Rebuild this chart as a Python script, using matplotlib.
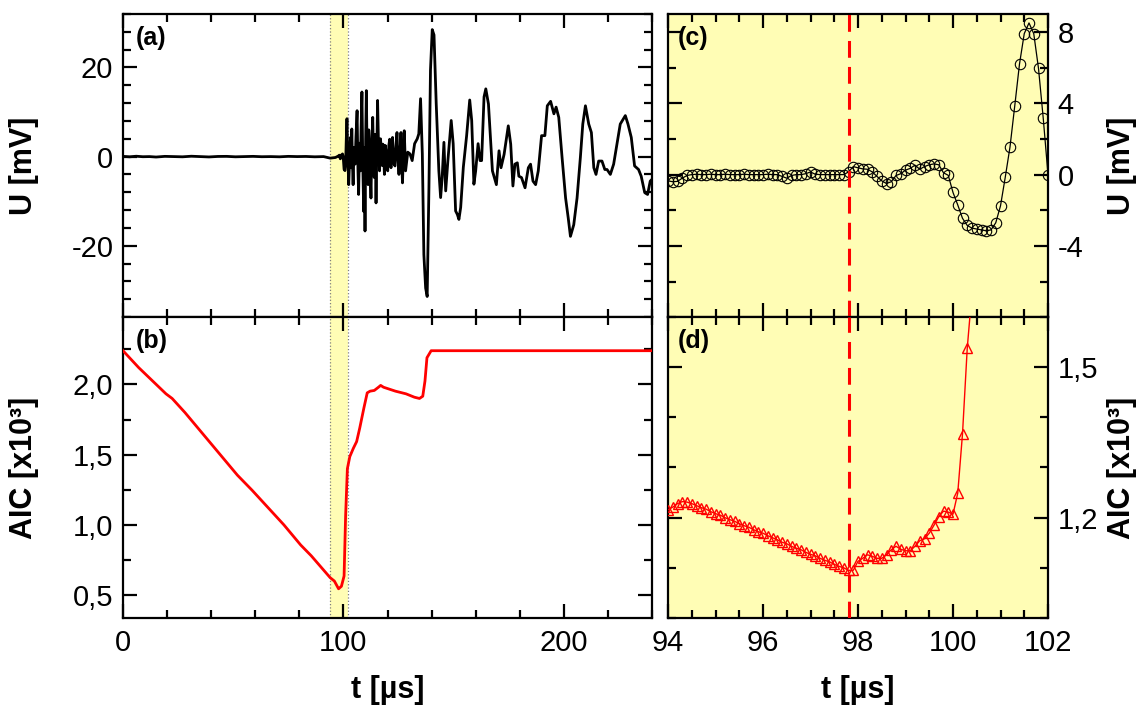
import numpy as np
import matplotlib.pyplot as plt
from matplotlib.ticker import MultipleLocator, FuncFormatter

plt.rcParams['font.family'] = ['Liberation Sans', 'DejaVu Sans']
plt.rcParams['axes.unicode_minus'] = False

t_wave = [0, 3, 6, 9, 12, 15, 19, 23, 27, 31, 35, 39, 43, 47, 51, 55, 59, 63, 67, 71,
          75, 79, 83, 87, 91, 94, 96.4, 97.8, 98.1, 98.6, 99.1, 99.6, 99.9, 100.3, 100.7,
          101.0, 101.3, 101.6, 102.0, 102.4, 102.8, 103.2, 103.5, 103.8, 104.1, 104.4,
          104.8, 105.3, 105.7, 106.2, 106.6, 106.9, 107.3, 107.7, 108.0, 108.4, 108.8,
          109.2, 109.5, 109.8, 110.1, 110.4, 110.8, 111.2, 111.5, 111.8, 112.2, 112.5,
          112.9, 113.3, 113.7, 114.0, 114.4, 114.8, 115.2, 115.5, 115.9, 116.4, 116.8,
          117.3, 117.6, 117.9, 118.3, 118.6, 119.0, 119.3, 119.7, 120.1, 120.6, 121.0,
          121.3, 121.6, 122.0, 122.3, 122.8, 123.4, 123.8, 124.3, 124.8, 125.2, 125.7,
          126.1, 126.5, 126.8, 127.2, 127.6, 128.2, 129.2, 130.2, 131.2, 132.3, 133.5,
          134.2, 135.0, 135.8, 136.5, 137.3, 138.0, 138.8, 139.5, 140.3, 141.1, 142.1,
          143.3, 144.1, 144.8, 145.6, 146.4, 147.4, 148.9, 149.8, 150.9, 151.7, 152.4,
          153.2, 154.4, 155.9, 157.3, 158.2, 159.2, 160.0, 161.1, 162.0, 162.7, 163.8,
          164.6, 165.8, 167.6, 169.4, 170.6, 171.5, 172.9, 174.8, 175.9, 176.9, 177.8,
          178.9, 179.6, 180.8, 182.4, 183.9, 184.9, 186.0, 187.2, 188.4, 189.9, 191.4,
          192.5, 194.0, 195.5, 196.5, 197.7, 199.2, 200.8, 202.0, 203.0, 204.5, 206.0,
          207.5, 208.6, 209.8, 211.3, 212.5, 213.6, 214.6, 215.8, 217.3, 218.6, 219.6,
          221.1, 222.6, 224.1, 225.6, 227.9, 229.1, 230.6, 232.1, 233.9, 235.1, 236.7,
          238.0, 239.2, 240.0]
u_wave = [0.05, -0.05, 0.08, -0.03, 0.0, -0.1, 0.05, 0.0, -0.05, 0.08, 0.0, -0.08, 0.03,
          0.05, -0.05, 0.0, 0.05, -0.03, 0.0, -0.05, 0.05, 0.0, 0.03, -0.05, 0.0, -0.35,
          -0.2, 0.15, 0.32, -0.5, 0.35, 0.6, -0.04, -2.85, -3.15, -1.75, 3.85, 8.5, 0.0,
          -6.3, -1.0, 4.3, -2.5, 6.2, -1.5, -6.3, 2.0, -1.7, 4.5, 10.3, -3.0, -8.5, 3.0,
          -3.2, 6.0, 14.5, -2.0, -12.3, 2.0, -16.7, 4.0, 14.8, -2.0, -6.3, 6.0, 2.8, -4.0,
          -9.3, 3.0, 8.8, -2.0, -4.7, 5.0, -10.4, 2.0, 12.6, 3.0, -3.2, 4.0, 1.3, -2.0,
          2.8, 0.0, -4.0, 2.5, 1.3, -1.5, -3.2, 2.5, 3.9, -1.0, -2.5, 1.5, 4.3, -1.5,
          -2.1, 2.0, 5.4, -1.0, -4.0, 1.0, 5.4, -2.0, -5.9, 0.5, 5.8, -3.2, 1.0, 0.6,
          -0.9, 2.9, 4.0, 5.1, 13.0, 0.6, -22.0, -29.5, -31.4, -6.9, 19.4, 28.5, 27.3,
          11.9, -3.2, -9.2, -4.7, 3.2, -7.7, -0.9, 8.1, 2.9, -12.2, -13.0, -14.1, -11.4,
          -2.4, 4.7, 12.7, 8.1, -6.2, -3.2, 2.9, -0.9, -0.9, 13.4, 15.2, 11.8, -3.2,
          -6.3, 1.3, -2.5, 0.5, 6.9, 2.8, -6.6, -1.7, -1.4, -4.4, -4.7, -7.0, -2.5, -1.7,
          -5.5, -6.3, -3.2, 4.7, 4.7, 11.4, 12.4, 9.6, 11.1, 8.8, -0.2, -9.3, -13.8,
          -17.9, -15.3, -9.3, -0.2, 7.3, 11.4, 7.3, 5.4, -2.5, -4.0, -1.0, -1.0, -2.9,
          -2.9, -4.0, -1.7, 2.8, 7.3, 9.2, 7.3, 4.3, -2.1, -2.9, -4.4, -8.1, -8.5, -5.5,
          -5.1]

# (b) AIC over the whole record (x10^3)
t_aic = [0, 7.1, 19.5, 22.3, 28.1, 51.9, 58.6, 73.0, 80.6, 85.4, 94.0, 95.9, 97.8, 99.1,
         100.3, 101.0, 101.8, 102.9, 104.5, 106.0, 107.4, 109.3, 110.8, 112.1, 114.0,
         115.9, 116.9, 118.2, 123.6, 128.4, 132.2, 134.5, 136.0, 137.0, 137.9, 139.8, 240]
aic = [2.24, 2.12, 1.933, 1.90, 1.80, 1.354, 1.246, 1.0, 0.857, 0.78, 0.624, 0.60, 0.545,
       0.563, 0.636, 1.067, 1.40, 1.486, 1.545, 1.593, 1.689, 1.833, 1.94, 1.952, 1.957,
       1.98, 1.993, 1.98, 1.952, 1.933, 1.909, 1.90, 1.916, 2.024, 2.19, 2.24, 2.24]

# (c),(d) zoom window 94-102 us, one sample every 0.1 us
t_zoom = [94.0, 94.1, 94.2, 94.3, 94.4, 94.5, 94.6, 94.7, 94.8, 94.9,
          95.0, 95.1, 95.2, 95.3, 95.4, 95.5, 95.6, 95.7, 95.8, 95.9,
          96.0, 96.1, 96.2, 96.3, 96.4, 96.5, 96.6, 96.7, 96.8, 96.9,
          97.0, 97.1, 97.2, 97.3, 97.4, 97.5, 97.6, 97.7, 97.8, 97.9,
          98.0, 98.1, 98.2, 98.3, 98.4, 98.5, 98.6, 98.7, 98.8, 98.9,
          99.0, 99.1, 99.2, 99.3, 99.4, 99.5, 99.6, 99.7, 99.8, 99.9,
          100.0, 100.1, 100.2, 100.3, 100.4, 100.5, 100.6, 100.7, 100.8, 100.9,
          101.0, 101.1, 101.2, 101.3, 101.4, 101.5, 101.6, 101.7, 101.8, 101.9, 102.0]
u_zoom = [-0.35, -0.40, -0.38, -0.20, -0.05, 0.00, 0.02, 0.00, 0.00, 0.02,
          0.00, 0.00, 0.02, 0.00, 0.00, 0.00, 0.02, 0.00, 0.00, 0.00,
          0.00, 0.02, 0.00, 0.00, -0.10, -0.20, -0.05, 0.00, 0.00, 0.05,
          0.15, 0.02, 0.00, 0.00, 0.00, 0.00, 0.00, 0.00, 0.15, 0.45,
          0.38, 0.32, 0.30, 0.15, -0.10, -0.35, -0.50, -0.40, -0.05, 0.05,
          0.25, 0.35, 0.53, 0.30, 0.45, 0.55, 0.60, 0.55, 0.10, -0.04,
          -1.00, -1.70, -2.45, -2.85, -3.00, -3.05, -3.10, -3.15, -3.10, -2.70,
          -1.75, -0.15, 1.55, 3.85, 6.20, 7.90, 8.50, 7.90, 5.95, 3.15, 0.00]
aic_zoom = [1.216, 1.221, 1.228, 1.232, 1.231, 1.228, 1.224, 1.220, 1.217, 1.212,
            1.208, 1.205, 1.200, 1.196, 1.193, 1.188, 1.184, 1.181, 1.176, 1.172,
            1.169, 1.164, 1.160, 1.156, 1.151, 1.148, 1.143, 1.139, 1.136, 1.131,
            1.127, 1.124, 1.119, 1.115, 1.112, 1.107, 1.103, 1.100, 1.095,
            1.095, 1.113, 1.119, 1.126, 1.123, 1.119, 1.119, 1.126, 1.136, 1.143, 1.137,
            1.134, 1.134, 1.143, 1.154, 1.158, 1.169, 1.185, 1.202, 1.213, 1.211,
            1.207, 1.249, 1.367, 1.538, 1.650]

t_pick = 97.8          # AIC minimum = onset
win = (94, 102)        # zoom window

yellow = '#FFFDB5'
W, H = 1145, 710

fig = plt.figure(figsize=(W / 100, H / 100), dpi=100)
ax_a = fig.add_axes([123 / W, 1 - 317 / H, 529 / W, 303 / H])
ax_b = fig.add_axes([123 / W, 1 - 618 / H, 529 / W, 301 / H])
ax_c = fig.add_axes([668 / W, 1 - 317 / H, 380 / W, 303 / H])
ax_d = fig.add_axes([668 / W, 1 - 618 / H, 380 / W, 301 / H])

comma = FuncFormatter(lambda v, p: f"{v:.1f}".replace('.', ','))

# left column
for ax in (ax_a, ax_b):
    ax.axvspan(win[0], win[1], color=yellow, zorder=0, lw=0)
    for x in win:
        ax.axvline(x, color='gray', ls=':', lw=0.9, zorder=1)
    ax.set_xlim(0, 240)
    ax.xaxis.set_major_locator(MultipleLocator(100))
    ax.xaxis.set_minor_locator(MultipleLocator(20))

ax_a.plot(t_wave, u_wave, color='black', lw=2.0, zorder=3)
ax_a.set_ylim(-36, 32)
ax_a.yaxis.set_major_locator(MultipleLocator(20))
ax_a.yaxis.set_minor_locator(MultipleLocator(4))
ax_a.set_ylabel('U [mV]', fontsize=22, fontweight='bold')
ax_a.tick_params(labelbottom=False)

ax_b.plot(t_aic, aic, color='red', lw=2.0, zorder=3)
ax_b.set_ylim(0.337, 2.48)
ax_b.yaxis.set_major_locator(MultipleLocator(0.5))
ax_b.yaxis.set_minor_locator(MultipleLocator(0.25))
ax_b.yaxis.set_major_formatter(comma)
ax_b.set_ylabel('AIC [x10³]', fontsize=22, fontweight='bold')
ax_b.set_xlabel('t [µs]', fontsize=22, fontweight='bold')

# right column
for ax in (ax_c, ax_d):
    ax.set_facecolor(yellow)
    ax.set_xlim(*win)
    ax.xaxis.set_major_locator(MultipleLocator(2))
    ax.xaxis.set_minor_locator(MultipleLocator(0.5))
    ax.axvline(t_pick, color='red', lw=2.2, ls=(0, (5.5, 3)), zorder=4)
    ax.yaxis.set_label_position('right')

ax_c.plot(t_zoom, u_zoom, color='black', lw=0.9, marker='o', ms=7.5,
          mfc='none', mec='black', mew=0.8, zorder=3)
ax_c.set_ylim(-7.98, 9.0)
ax_c.yaxis.set_major_locator(MultipleLocator(4))
ax_c.yaxis.set_minor_locator(MultipleLocator(2))
ax_c.set_ylabel('U [mV]', fontsize=22, fontweight='bold')
ax_c.tick_params(labelbottom=False)

ax_d.plot(t_zoom[:len(aic_zoom)], aic_zoom, color='red', lw=1.0, marker='^', ms=7.5,
          mfc='none', mec='red', mew=1.0, zorder=3)
ax_d.set_ylim(1.0, 1.6)
ax_d.yaxis.set_major_locator(MultipleLocator(0.3))
ax_d.yaxis.set_minor_locator(MultipleLocator(0.1))
ax_d.yaxis.set_major_formatter(comma)
ax_d.set_ylabel('AIC [x10³]', fontsize=22, fontweight='bold')
ax_d.set_xlabel('t [µs]', fontsize=22, fontweight='bold')

for ax in (ax_a, ax_b, ax_c, ax_d):
    for s in ax.spines.values():
        s.set_linewidth(1.6)
    ax.tick_params(which='both', direction='in', top=True, right=True, left=True,
                   bottom=True, width=1.6, labelsize=21)
    ax.tick_params(which='major', length=10)
    ax.tick_params(which='minor', length=5.5)
    ax.tick_params(axis='x', pad=8)
    ax.tick_params(axis='y', pad=7)

for ax in (ax_c, ax_d):
    ax.tick_params(labelleft=False, labelright=True)

for ax, lab in ((ax_a, '(a)'), (ax_b, '(b)'), (ax_c, '(c)'), (ax_d, '(d)')):
    ax.text(0.025, 0.96, lab, transform=ax.transAxes, fontsize=18,
            fontweight='bold', va='top', ha='left', zorder=5)

ax_a.yaxis.set_label_coords(-0.158, 0.5)
ax_b.yaxis.set_label_coords(-0.158, 0.5)
ax_c.yaxis.set_label_coords(1.155, 0.5)
ax_d.yaxis.set_label_coords(1.155, 0.5)
ax_b.xaxis.set_label_coords(0.5, -0.19)
ax_d.xaxis.set_label_coords(0.5, -0.19)

fig.savefig('out.png', dpi=100)
